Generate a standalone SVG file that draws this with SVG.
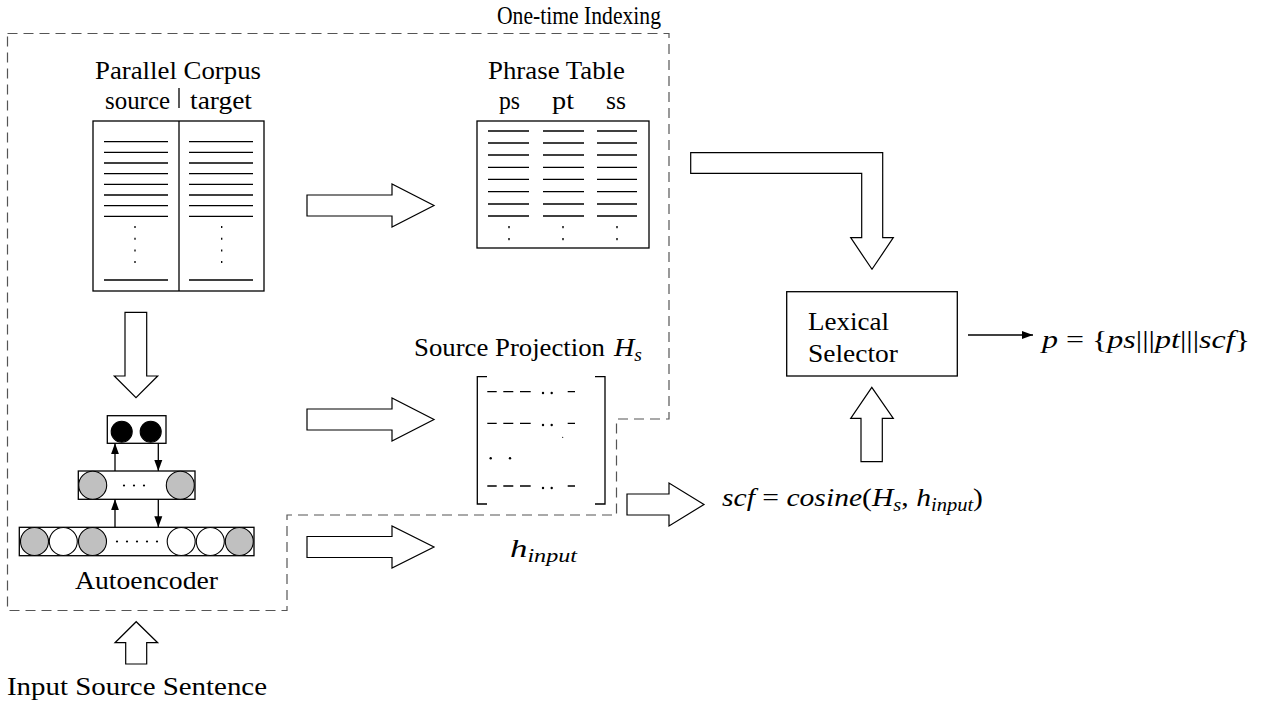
<svg xmlns="http://www.w3.org/2000/svg" width="1277" height="704" viewBox="0 0 1277 704">
<style>
text{font-family:"Liberation Serif","DejaVu Serif","Times New Roman",serif;fill:#000;}
.t{font-size:25px;}
.m{font-size:26px;}
.it{font-style:italic;}
.sub{font-size:18px;font-style:italic;}
.ln{stroke:#000;stroke-width:1.3;fill:none;}
.box{stroke:#000;stroke-width:1.3;fill:#fff;}
.harrow{stroke:#000;stroke-width:1.2;fill:#fff;stroke-linejoin:miter;}
.dash{stroke:#555;stroke-width:1.2;fill:none;stroke-dasharray:10 6;}
.dots{stroke:#000;stroke-width:1.3;fill:none;stroke-dasharray:2 9.7;}
.gray{fill:#c0c0c0;stroke:#000;stroke-width:1.1;}
.white{fill:#fff;stroke:#000;stroke-width:1.1;}
.black{fill:#000;stroke:#000;stroke-width:1.1;}
</style>
<defs>
<marker id="ah" markerWidth="12" markerHeight="10" refX="11" refY="5" orient="auto" markerUnits="userSpaceOnUse">
<path d="M0,1 L11,5 L0,9 Z" fill="#000"/>
</marker>
</defs>
<rect width="1277" height="704" fill="#fff"/>

<g id="indexing-boundary">
<path class="dash" d="M7.5 33.5 H669 V419 H616.5 V515 H287 V610.5 H7.5 Z"/>
<text class="t" x="497" y="24" textLength="164" lengthAdjust="spacingAndGlyphs">One-time Indexing</text>
</g>

<g id="parallel-corpus">
<text class="t" x="95" y="79" textLength="166" lengthAdjust="spacingAndGlyphs">Parallel Corpus</text>
<text class="t" x="105" y="109" textLength="65" lengthAdjust="spacingAndGlyphs">source</text>
<text class="t" x="190" y="109" textLength="62" lengthAdjust="spacingAndGlyphs">target</text>
<line class="ln" x1="179" y1="88" x2="179" y2="108"/>
<rect class="box" x="93" y="121" width="171" height="170"/>
<line class="ln" x1="179" y1="121" x2="179" y2="291"/>
<g class="ln">
<path d="M104 141.7H168M104 152.3H168M104 163H168M104 173.7H168M104 184.3H168M104 195H168M104 205.7H168M104 216.3H168M104 280H168"/>
<path d="M189 141.7H253M189 152.3H253M189 163H253M189 173.7H253M189 184.3H253M189 195H253M189 205.7H253M189 216.3H253M189 280H253"/>
</g>
<line class="dots" x1="135" y1="226" x2="135" y2="263"/>
<line class="dots" x1="221.7" y1="226" x2="221.7" y2="263"/>
</g>

<g id="phrase-table">
<text class="t" x="488" y="79" textLength="137" lengthAdjust="spacingAndGlyphs">Phrase Table</text>
<text class="t" x="499" y="109" textLength="21" lengthAdjust="spacingAndGlyphs">ps</text>
<text class="t" x="552" y="109" textLength="22" lengthAdjust="spacingAndGlyphs">pt</text>
<text class="t" x="606" y="109" textLength="20" lengthAdjust="spacingAndGlyphs">ss</text>
<rect class="box" x="477" y="121" width="172" height="127"/>
<g class="ln">
<path d="M488 131H529M488 143H529M488 155H529M488 167.3H529M488 179.3H529M488 191.7H529M488 204H529M488 216H529"/>
<path d="M543 131H584M543 143H584M543 155H584M543 167.3H584M543 179.3H584M543 191.7H584M543 204H584M543 216H584"/>
<path d="M597 131H637M597 143H637M597 155H637M597 167.3H637M597 179.3H637M597 191.7H637M597 204H637M597 216H637"/>
</g>
<g fill="#000">
<rect x="508.3" y="226" width="1.4" height="2.2"/><rect x="508.3" y="238" width="1.4" height="2.2"/>
<rect x="562.3" y="226" width="1.4" height="2.2"/><rect x="562.3" y="238" width="1.4" height="2.2"/>
<rect x="616.3" y="226" width="1.4" height="2.2"/><rect x="616.3" y="238" width="1.4" height="2.2"/>
</g>
</g>

<g id="source-projection">
<text class="t" x="414" y="356" textLength="191" lengthAdjust="spacingAndGlyphs">Source Projection</text>
<text class="m it" x="614" y="356" textLength="28" lengthAdjust="spacingAndGlyphs">H<tspan class="sub" dy="5">s</tspan></text>
<path class="ln" d="M487 376.7H477.3V504H487"/>
<path class="ln" d="M595 376.7H605V504H595"/>
<g class="ln">
<path d="M487.3 391.7H496.7M503.3 391.7H513.3M520 391.7H530.7M567.7 391.7H575"/>
<path d="M487.3 423.3H496.7M503.3 423.3H513.3M520 423.3H530.7M567.7 423.3H575"/>
<path d="M487.3 486H496.7M503.3 486H513.3M520 486H530.7M567.7 486H575"/>
</g>
<g fill="#000">
<circle cx="543" cy="393" r="1.2"/><circle cx="551.7" cy="393" r="1.2"/>
<circle cx="543" cy="425" r="1.2"/><circle cx="551.7" cy="425" r="1.2"/>
<circle cx="562.7" cy="437.3" r="0.6"/>
<circle cx="490.7" cy="458.3" r="1.2"/><circle cx="510" cy="458.3" r="1.2"/>
<circle cx="543" cy="488" r="1.2"/><circle cx="551.7" cy="488" r="1.2"/>
</g>
</g>

<g id="h-input">
<text class="m it" x="510" y="557" textLength="67" lengthAdjust="spacingAndGlyphs">h<tspan class="sub" dy="5">input</tspan></text>
</g>

<g id="autoencoder">
<rect class="box" x="107.3" y="415.7" width="58.7" height="27.6"/>
<circle class="black" cx="121.7" cy="431.7" r="10.5"/>
<circle class="black" cx="150.7" cy="431.7" r="10.5"/>
<rect class="box" x="78.3" y="471" width="116.7" height="28.3"/>
<circle class="gray" cx="92.7" cy="485.3" r="14"/>
<circle class="gray" cx="180.3" cy="485.3" r="14"/>
<g fill="#000"><circle cx="124" cy="485.5" r="1.1"/><circle cx="134" cy="485.5" r="1.1"/><circle cx="144" cy="485.5" r="1.1"/></g>
<rect class="box" x="19.3" y="527.3" width="234.7" height="28.4"/>
<circle class="gray" cx="34.5" cy="541.5" r="14"/>
<circle class="white" cx="63.3" cy="541.5" r="14"/>
<circle class="gray" cx="92.5" cy="541.5" r="14"/>
<g fill="#000"><circle cx="117" cy="541.5" r="1.1"/><circle cx="127" cy="541.5" r="1.1"/><circle cx="137" cy="541.5" r="1.1"/><circle cx="147" cy="541.5" r="1.1"/><circle cx="157" cy="541.5" r="1.1"/></g>
<circle class="white" cx="181.2" cy="541.5" r="14"/>
<circle class="white" cx="210.3" cy="541.5" r="14"/>
<circle class="gray" cx="239.3" cy="541.5" r="14"/>
<text class="t" x="75" y="589" textLength="143" lengthAdjust="spacingAndGlyphs">Autoencoder</text>
</g>

<g id="lexical-selector">
<rect class="box" x="786.7" y="291.7" width="170.6" height="84.3"/>
<text class="t" x="808" y="330" textLength="81" lengthAdjust="spacingAndGlyphs">Lexical</text>
<text class="t" x="808" y="361.7" textLength="90" lengthAdjust="spacingAndGlyphs">Selector</text>
</g>

<g id="scf-formula">
<text class="m" x="722" y="506" textLength="261" lengthAdjust="spacingAndGlyphs"><tspan class="it">scf</tspan> = <tspan class="it">cosine</tspan>(<tspan class="it">H</tspan><tspan class="sub" dy="5">s</tspan><tspan dy="-5">, </tspan><tspan class="it">h</tspan><tspan class="sub" dy="5">input</tspan><tspan dy="-5">)</tspan></text>
</g>

<g id="output-p">
<text class="m" x="1042" y="348" textLength="208" lengthAdjust="spacingAndGlyphs"><tspan class="it">p</tspan> = {<tspan class="it">ps</tspan>|||<tspan class="it">pt</tspan>|||<tspan class="it">scf</tspan>}</text>
</g>

<g id="input-sentence">
<text class="t" x="7" y="695" textLength="260" lengthAdjust="spacingAndGlyphs">Input Source Sentence</text>
</g>

<g id="connectors">
<polygon class="harrow" points="307,195 392,195 392,184 434,205.5 392,227 392,216 307,216"/>
<polygon class="harrow" points="307,409 392,409 392,398 434,419.5 392,441 392,430 307,430"/>
<polygon class="harrow" points="307,536.5 392,536.5 392,526 434,547 392,568 392,557.5 307,557.5"/>
<polygon class="harrow" points="627,494 669,494 669,483 704,504.5 669,526 669,515 627,515"/>
<path class="harrow" d="M690.7 152.7H882.7V237.7H893.3L872 269.3L850.7 237.7H861.7V173.3H690.7Z"/>
<path class="harrow" d="M861 461.7V418.3H850.7L871.8 387.3L893.3 418.3H882.3V461.7Z"/>
<path class="harrow" d="M125 312.3H146.7V376H157.7L136 397.7L114.3 376H125Z"/>
<path class="harrow" d="M125.7 664V642.7H115L136.2 621.7L157.7 642.7H146.7V664Z"/>
<line class="ln" x1="968" y1="335" x2="1033" y2="335" marker-end="url(#ah)"/>
<line class="ln" x1="115" y1="471" x2="115" y2="443.3" marker-end="url(#ah)"/>
<line class="ln" x1="158.3" y1="443.3" x2="158.3" y2="471" marker-end="url(#ah)"/>
<line class="ln" x1="115" y1="527.3" x2="115" y2="499.3" marker-end="url(#ah)"/>
<line class="ln" x1="158.3" y1="499.3" x2="158.3" y2="527.3" marker-end="url(#ah)"/>
</g>
</svg>
